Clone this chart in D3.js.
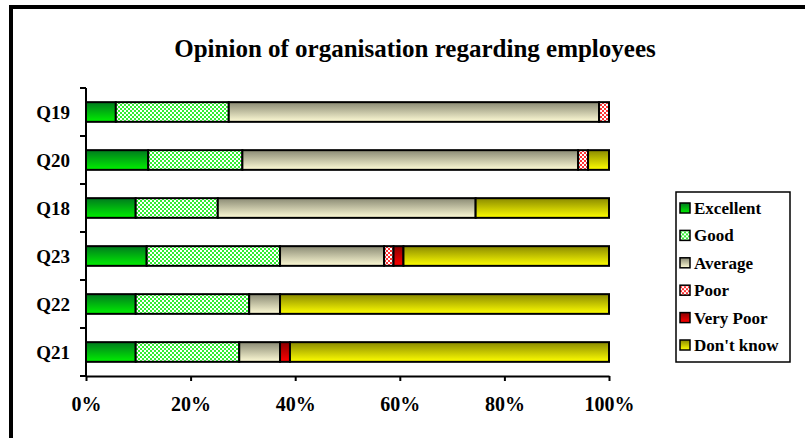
<!DOCTYPE html>
<html>
<head>
<meta charset="utf-8">
<script src="https://cdn.jsdelivr.net/npm/d3@7"></script>
<style>
  html, body { margin: 0; padding: 0; background: #fff; }
  svg { display: block; }
  text { font-family: "Liberation Serif", "Times New Roman", serif; font-weight: bold; fill: #000; }
</style>
</head>
<body>
<svg id="chart" width="805" height="438"></svg>
<script>
// Questions, top to bottom
const questions = ["Q19", "Q20", "Q18", "Q23", "Q22", "Q21"];
const ratings = ["Excellent", "Good", "Average", "Poor", "Very Poor", "Don't know"];

// Share of answers (%) per rating, one array per rating, in question order
const excellent = [5.7, 11.9, 9.5, 11.6, 9.5, 9.5];
const good      = [21.6, 18.0, 15.7, 25.5, 21.7, 19.8];
const average   = [70.8, 64.2, 49.3, 19.9, 5.9, 7.8];
const poor      = [1.9, 1.9, 0, 1.8, 0, 0];
const veryPoor  = [0, 0, 0, 1.9, 0, 1.9];
const dontKnow  = [0, 4.0, 25.5, 39.3, 62.9, 61.0];

const xTicks = [0, 0.2, 0.4, 0.6, 0.8, 1.0];
const chartTitle = "Opinion of organisation regarding employees";

const seriesValues = [excellent, good, average, poor, veryPoor, dontKnow];
const rows = questions.map((q, i) => {
  const row = { q };
  ratings.forEach((r, j) => row[r] = seriesValues[j][i]);
  return row;
});
const stacked = d3.stack().keys(ratings).offset(d3.stackOffsetExpand)(rows);

const svg = d3.select("#chart");
const defs = svg.append("defs");

// Vertical two-tone gradients (darker top, bright bottom)
function grad(id, top, bottom) {
  const g = defs.append("linearGradient").attr("id", id)
    .attr("x1", 0).attr("y1", 0).attr("x2", 0).attr("y2", 1);
  g.append("stop").attr("offset", "0%").attr("stop-color", top);
  g.append("stop").attr("offset", "100%").attr("stop-color", bottom);
}
grad("gExcellent", "#007a1e", "#00f000");
grad("gAverage", "#8a8a74", "#fffcd6");
grad("gVeryPoor", "#8a0000", "#ff0000");
grad("gDontKnow", "#8a8a00", "#ffff00");

// Dotted patterns
function dots(id, color) {
  const p = defs.append("pattern").attr("id", id)
    .attr("width", 4).attr("height", 4).attr("patternUnits", "userSpaceOnUse");
  p.append("rect").attr("width", 4).attr("height", 4).attr("fill", "#ffffff");
  p.append("rect").attr("x", 0).attr("y", 0).attr("width", 2).attr("height", 2).attr("fill", color);
  p.append("rect").attr("x", 2).attr("y", 2).attr("width", 2).attr("height", 2).attr("fill", color);
}
dots("pGood", "#33ee33");
dots("pPoor", "#ff3333");

const fills = {
  "Excellent": "url(#gExcellent)",
  "Good": "url(#pGood)",
  "Average": "url(#gAverage)",
  "Poor": "url(#pPoor)",
  "Very Poor": "url(#gVeryPoor)",
  "Don't know": "url(#gDontKnow)"
};

// Outer frame
svg.append("rect").attr("x", 11).attr("y", 7).attr("width", 820).attr("height", 460)
  .attr("fill", "none").attr("stroke", "#000").attr("stroke-width", 4);

// Title
svg.append("text").attr("x", 415).attr("y", 57).attr("text-anchor", "middle")
  .style("font-size", "25px").text(chartTitle);

const x = d3.scaleLinear().domain([0, 1]).range([86, 609]);
const y = d3.scaleBand().domain(questions).range([88, 376]).paddingInner(0.59).paddingOuter(0.295);

// Bars
svg.append("g").selectAll("g").data(stacked).join("g")
  .attr("fill", d => fills[d.key])
  .selectAll("rect").data(d => d.filter(s => s[1] - s[0] > 0)).join("rect")
  .attr("x", d => x(d[0]))
  .attr("y", d => y(d.data.q))
  .attr("width", d => x(d[1]) - x(d[0]))
  .attr("height", y.bandwidth())
  .attr("stroke", "#000").attr("stroke-width", 2);

// X axis
const xAxis = svg.append("g").attr("transform", "translate(0,376)")
  .call(d3.axisBottom(x).tickValues(xTicks).tickFormat(d3.format(".0%")).tickSizeInner(5).tickSizeOuter(0).tickPadding(16));
xAxis.select(".domain").attr("stroke", "#000").attr("stroke-width", 2);
xAxis.selectAll(".tick line").attr("stroke", "#000").attr("stroke-width", 2);
xAxis.selectAll(".tick text").style("font-size", "20px")
  .style("font-family", "Liberation Serif, serif").style("font-weight", "bold");

// Y axis: category labels with ticks at band boundaries
const yAxisG = svg.append("g").attr("transform", "translate(86,0)");
yAxisG.append("line").attr("x1", 0).attr("x2", 0).attr("y1", 88).attr("y2", 376)
  .attr("stroke", "#000").attr("stroke-width", 2);
const bounds = questions.map(q => y(q) - y.step() * y.paddingInner() / 2).concat([376]);
yAxisG.selectAll("line.tk").data(bounds).join("line").attr("class", "tk")
  .attr("x1", -6).attr("x2", 0).attr("y1", d => d).attr("y2", d => d)
  .attr("stroke", "#000").attr("stroke-width", 2);
yAxisG.selectAll("text").data(questions).join("text")
  .attr("x", -16).attr("y", q => y(q) + y.bandwidth() / 2).attr("dy", "0.35em")
  .attr("text-anchor", "end").style("font-size", "19px").text(q => q);

// Legend
const lg = svg.append("g");
lg.append("rect").attr("x", 676).attr("y", 192).attr("width", 114).attr("height", 170)
  .attr("fill", "#fff").attr("stroke", "#000").attr("stroke-width", 1.5);
const ly = d3.scalePoint().domain(ratings).range([208, 345]);
const items = lg.selectAll("g.item").data(ratings).join("g").attr("class", "item")
  .attr("transform", r => `translate(0,${ly(r)})`);
items.append("rect").attr("x", 680).attr("y", -5).attr("width", 10).attr("height", 10)
  .attr("fill", r => fills[r]).attr("stroke", "#000").attr("stroke-width", 1.5);
items.append("text").attr("x", 694).attr("y", 0).attr("dy", "0.35em")
  .style("font-size", "17px").text(r => r);
</script>
</body>
</html>
